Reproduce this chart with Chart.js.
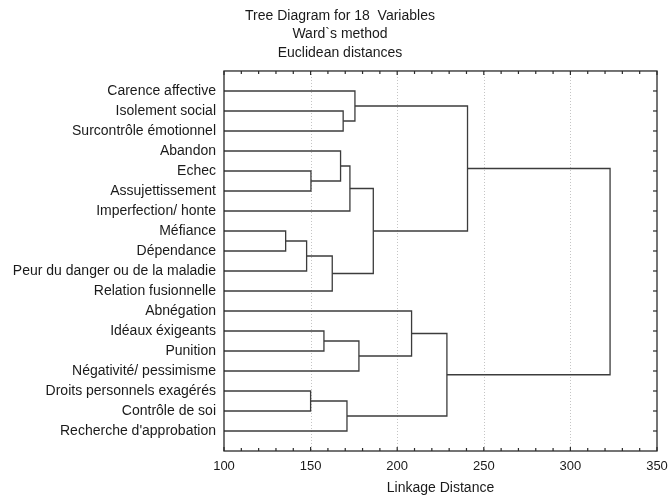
<!DOCTYPE html>
<html>
<head>
<meta charset="utf-8">
<script src="https://cdn.jsdelivr.net/npm/chart.js@4.4.1/dist/chart.umd.min.js"></script>
<style>
  html, body { margin: 0; padding: 0; background: #fff; }
  #wrap { width: 669px; height: 497px; }
</style>
</head>
<body>
<div id="wrap"><canvas id="c" width="669" height="497"></canvas></div>
<script>
// ---- data ----
const leafLabels = [
  "Carence affective", "Isolement social", "Surcontrôle émotionnel", "Abandon",
  "Echec", "Assujettissement", "Imperfection/ honte", "Méfiance", "Dépendance",
  "Peur du danger ou de la maladie", "Relation fusionnelle", "Abnégation",
  "Idéaux éxigeants", "Punition", "Négativité/ pessimisme",
  "Droits personnels exagérés", "Contrôle de soi", "Recherche d'approbation"
];
// merge steps: node ids < 18 are leaves, node 18+k is the result of merge k
const mergeLeft   = [7, 18, 15, 4, 12, 19, 3, 1, 20, 24, 0, 22, 27, 11, 31, 28, 33];
const mergeRight  = [8, 9, 16, 5, 13, 10, 21, 2, 17, 6, 25, 14, 23, 29, 26, 30, 32];
const mergeHeight = [135.6, 147.7, 150.0, 150.2, 157.7, 162.5, 167.3, 168.8, 171.0,
                     172.7, 175.6, 177.9, 186.2, 208.3, 228.7, 240.6, 322.9];
const xTicks = [100, 150, 200, 250, 300, 350];
const titleLines = ["Tree Diagram for 18  Variables", "Ward`s method", "Euclidean distances"];
const xAxisTitle = "Linkage Distance";

const xMin = xTicks[0], xMax = xTicks[xTicks.length - 1];
const nLeaves = leafLabels.length;

// build node positions
const nodeX = [], nodeY = [];
for (let i = 0; i < nLeaves; i++) { nodeX.push(xMin); nodeY.push(i + 1); }
const datasets = [];
for (let k = 0; k < mergeHeight.length; k++) {
  const a = mergeLeft[k], b = mergeRight[k], h = mergeHeight[k];
  datasets.push({
    data: [
      { x: nodeX[a], y: nodeY[a] }, { x: h, y: nodeY[a] },
      { x: h, y: nodeY[b] }, { x: nodeX[b], y: nodeY[b] }
    ],
    showLine: true, borderColor: '#3c3c3c', borderWidth: 1.3,
    pointRadius: 0, pointHoverRadius: 0, tension: 0, fill: false
  });
  nodeX.push(h); nodeY.push((nodeY[a] + nodeY[b]) / 2);
}

const FONT = "'Liberation Sans', Arial, Helvetica, sans-serif";

const framePlugin = {
  id: 'frame',
  afterLayout(chart) {
    // centre the title block slightly right, as in the reference
    if (chart.titleBlock) chart.titleBlock.left = 23;
  },
  beforeDatasetsDraw(chart) {
    const { ctx, chartArea: ca, scales: { x } } = chart;
    ctx.save();
    ctx.strokeStyle = '#c4c4c4';
    ctx.lineWidth = 1;
    ctx.setLineDash([1, 2]);
    xTicks.slice(1, -1).forEach(v => {
      const px = Math.round(x.getPixelForValue(v)) + 0.5;
      ctx.beginPath(); ctx.moveTo(px, ca.top); ctx.lineTo(px, ca.bottom); ctx.stroke();
    });
    ctx.restore();
  },
  afterDraw(chart) {
    const { ctx, chartArea: ca, scales: { x, y } } = chart;
    ctx.save();
    ctx.strokeStyle = '#2a2a2a';
    ctx.lineWidth = 1.3;
    ctx.strokeRect(ca.left, ca.top, ca.right - ca.left, ca.bottom - ca.top);
    ctx.lineWidth = 1.2;
    // inward ticks on bottom and top every 10 units
    for (let v = xMin; v <= xMax; v += 10) {
      const px = x.getPixelForValue(v);
      const len = (v % 50 === 0) ? 4 : 3;
      ctx.beginPath();
      ctx.moveTo(px, ca.bottom); ctx.lineTo(px, ca.bottom - len);
      ctx.moveTo(px, ca.top); ctx.lineTo(px, ca.top + len);
      ctx.stroke();
    }
    // inward ticks on right at leaves
    for (let i = 1; i <= nLeaves; i++) {
      const py = y.getPixelForValue(i);
      ctx.beginPath(); ctx.moveTo(ca.right, py); ctx.lineTo(ca.right - 4, py); ctx.stroke();
    }
    ctx.restore();
  }
};

new Chart(document.getElementById('c'), {
  type: 'scatter',
  data: { datasets },
  plugins: [framePlugin],
  options: {
    responsive: false,
    animation: false,
    events: [],
    layout: { padding: { left: 0, right: 12, top: 0, bottom: 0 } },
    plugins: {
      legend: { display: false },
      tooltip: { enabled: false },
      title: {
        display: true, text: titleLines, color: '#1a1a1a',
        font: { family: FONT, size: 14, weight: 'normal', lineHeight: 1.34 },
        padding: { top: 6.3, bottom: 8.4 }
      }
    },
    scales: {
      x: {
        type: 'linear', min: xMin, max: xMax,
        grid: { display: false, drawTicks: false },
        border: { display: false },
        afterBuildTicks: s => { s.ticks = xTicks.map(v => ({ value: v })); },
        afterFit: s => { s.height = 46; s.paddingLeft = 0; s.paddingRight = 0; },
        ticks: { color: '#1a1a1a', padding: 8, font: { family: FONT, size: 13 }, maxRotation: 0 },
        title: { display: true, text: xAxisTitle, color: '#1a1a1a',
                 font: { family: FONT, size: 14 }, padding: { top: 0, bottom: 0 } }
      },
      y: {
        type: 'linear', min: 0, max: nLeaves + 1, reverse: true,
        grid: { display: false, drawTicks: false },
        border: { display: false },
        afterBuildTicks: s => { s.ticks = leafLabels.map((_, i) => ({ value: i + 1 })); },
        afterFit: s => { s.width = 224; s.paddingTop = 0; s.paddingBottom = 0; },
        ticks: {
          autoSkip: false, color: '#1a1a1a', padding: 8,
          font: { family: FONT, size: 14 },
          callback: v => leafLabels[v - 1] || ''
        }
      }
    }
  }
});
</script>
</body>
</html>
